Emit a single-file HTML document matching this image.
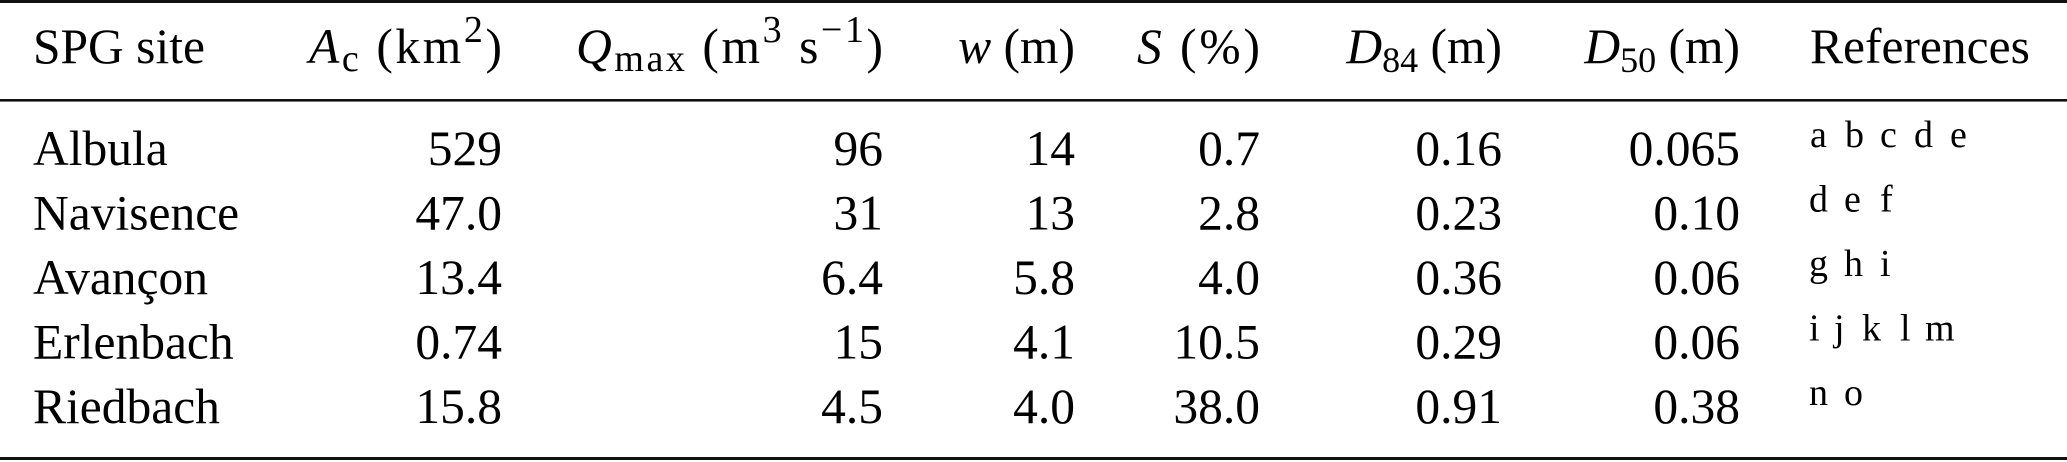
<!DOCTYPE html>
<html>
<head>
<meta charset="utf-8">
<style>
  html, body { margin: 0; padding: 0; background: #fff; }
  svg { display: block; }
  text { font-family: "Liberation Serif", "DejaVu Serif", serif; fill: #000; white-space: pre; }
</style>
</head>
<body>
<svg width="2067" height="462" viewBox="0 0 2067 462" xmlns="http://www.w3.org/2000/svg">
  <rect x="0" y="0" width="2067" height="462" fill="#fff"/>
  <!-- rules -->
  <rect x="0" y="0" width="2067" height="3" fill="#111"/>
  <rect x="0" y="99" width="2067" height="2.6" fill="#111"/>
  <rect x="0" y="457" width="2067" height="3" fill="#111"/>

  <!-- header -->
  <g font-size="49.5">
    <text x="33" y="63">SPG site</text>
    <text x="502" y="63" text-anchor="end" textLength="193" lengthAdjust="spacing"><tspan font-style="italic">A</tspan><tspan font-size="38" dy="8">c</tspan><tspan dy="-8"> (km</tspan><tspan font-size="38" dy="-21">2</tspan><tspan dy="21">)</tspan></text>
    <text x="883" y="63" text-anchor="end" textLength="307" lengthAdjust="spacing"><tspan font-style="italic">Q</tspan><tspan font-size="38" dy="8">max</tspan><tspan dy="-8"> (m</tspan><tspan font-size="38" dy="-21">3</tspan><tspan dy="21"> s</tspan><tspan font-size="38" dy="-21">−1</tspan><tspan dy="21">)</tspan></text>
    <text x="1075" y="63" text-anchor="end"><tspan font-style="italic">w</tspan> (m)</text>
    <text x="1260" y="63" text-anchor="end" textLength="123" lengthAdjust="spacing"><tspan font-style="italic">S</tspan> (%)</text>
    <text x="1502" y="63" text-anchor="end"><tspan font-style="italic">D</tspan><tspan font-size="36" dy="9">84</tspan><tspan dy="-9"> (m)</tspan></text>
    <text x="1740" y="63" text-anchor="end"><tspan font-style="italic">D</tspan><tspan font-size="36" dy="9">50</tspan><tspan dy="-9"> (m)</tspan></text>
    <text x="1810" y="63">References</text>
  </g>

  <!-- body -->
  <g font-size="49.5">
    <!-- row 1 -->
    <text x="33" y="165">Albula</text>
    <text x="502" y="165" text-anchor="end">529</text>
    <text x="883" y="165" text-anchor="end">96</text>
    <text x="1075" y="165" text-anchor="end">14</text>
    <text x="1260" y="165" text-anchor="end">0.7</text>
    <text x="1502" y="165" text-anchor="end">0.16</text>
    <text x="1740" y="165" text-anchor="end">0.065</text>
    <!-- row 2 -->
    <text x="33" y="229.5">Navisence</text>
    <text x="502" y="229.5" text-anchor="end">47.0</text>
    <text x="883" y="229.5" text-anchor="end">31</text>
    <text x="1075" y="229.5" text-anchor="end">13</text>
    <text x="1260" y="229.5" text-anchor="end">2.8</text>
    <text x="1502" y="229.5" text-anchor="end">0.23</text>
    <text x="1740" y="229.5" text-anchor="end">0.10</text>
    <!-- row 3 -->
    <text x="33" y="294">Avançon</text>
    <text x="502" y="294" text-anchor="end">13.4</text>
    <text x="883" y="294" text-anchor="end">6.4</text>
    <text x="1075" y="294" text-anchor="end">5.8</text>
    <text x="1260" y="294" text-anchor="end">4.0</text>
    <text x="1502" y="294" text-anchor="end">0.36</text>
    <text x="1740" y="294" text-anchor="end">0.06</text>
    <!-- row 4 -->
    <text x="33" y="358.5">Erlenbach</text>
    <text x="502" y="358.5" text-anchor="end">0.74</text>
    <text x="883" y="358.5" text-anchor="end">15</text>
    <text x="1075" y="358.5" text-anchor="end">4.1</text>
    <text x="1260" y="358.5" text-anchor="end">10.5</text>
    <text x="1502" y="358.5" text-anchor="end">0.29</text>
    <text x="1740" y="358.5" text-anchor="end">0.06</text>
    <!-- row 5 -->
    <text x="33" y="423">Riedbach</text>
    <text x="502" y="423" text-anchor="end">15.8</text>
    <text x="883" y="423" text-anchor="end">4.5</text>
    <text x="1075" y="423" text-anchor="end">4.0</text>
    <text x="1260" y="423" text-anchor="end">38.0</text>
    <text x="1502" y="423" text-anchor="end">0.91</text>
    <text x="1740" y="423" text-anchor="end">0.38</text>
  </g>

  <!-- references (superscript-style letters) -->
  <g font-size="38">
    <text y="147"><tspan x="1810">a</tspan><tspan x="1845">b</tspan><tspan x="1880">c</tspan><tspan x="1914">d</tspan><tspan x="1950">e</tspan></text>
    <text y="211.5"><tspan x="1809">d</tspan><tspan x="1844">e</tspan><tspan x="1880">f</tspan></text>
    <text y="276"><tspan x="1809">g</tspan><tspan x="1844">h</tspan><tspan x="1880">i</tspan></text>
    <text y="340.5"><tspan x="1809">i</tspan><tspan x="1834">j</tspan><tspan x="1862">k</tspan><tspan x="1900">l</tspan><tspan x="1925">m</tspan></text>
    <text y="405"><tspan x="1809">n</tspan><tspan x="1844">o</tspan></text>
  </g>
</svg>
</body>
</html>
